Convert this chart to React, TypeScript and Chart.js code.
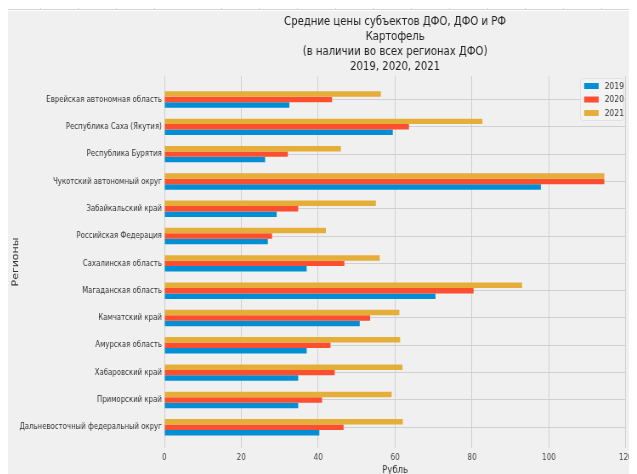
import React, { useEffect, useRef } from "react";
import { Chart, registerables } from "chart.js";

Chart.register(...registerables);

const regions: string[] = [
  "Еврейская автономная область",
  "Республика Саха (Якутия)",
  "Республика Бурятия",
  "Чукотский автономный округ",
  "Забайкальский край",
  "Российская Федерация",
  "Сахалинская область",
  "Магаданская область",
  "Камчатский край",
  "Амурская область",
  "Хабаровский край",
  "Приморский край",
  "Дальневосточный федеральный округ",
];
const prices2019: number[] = [32.5, 59.4, 26.2, 97.9, 29.2, 26.9, 37.0, 70.5, 50.8, 37.0, 34.8, 34.8, 40.3];
const prices2020: number[] = [43.6, 63.6, 32.1, 114.4, 34.8, 28.0, 46.8, 80.4, 53.5, 43.2, 44.3, 41.0, 46.6];
const prices2021: number[] = [56.3, 82.7, 45.9, 114.4, 55.0, 42.0, 56.0, 93.0, 61.1, 61.3, 61.9, 59.1, 62.0];
const xTicks: number[] = [0, 20, 40, 60, 80, 100, 120];
const seriesNames: string[] = ["2019", "2020", "2021"];
const seriesColors: string[] = ["#008fd5", "#fc4f30", "#e5ae38"];
const titleLines: string[] = [
  "Средние цены субъектов ДФО, ДФО и РФ",
  "Картофель",
  "(в наличии во всех регионах ДФО)",
  "2019, 2020, 2021",
];
const xTitle = "Рубль";
const yTitle = "Регионы";

const FONT = "'DejaVu Sans', sans-serif";
// the reference screenshot is squeezed horizontally; draw wider and scale down with CSS
const SQUEEZE = 0.85;
const CSS_W = 629;
const CSS_H = 463;
const INNER_W = Math.round(CSS_W / SQUEEZE);

const toPoints = (vals: number[]) =>
  vals.map((v, i) => ({ x: v, y: regions.length - 1 - i }));

const legendPlugin = {
  id: "insideLegend",
  afterDatasetsDraw(chart: any) {
    const { ctx, chartArea } = chart;
    const bw = 51;
    const bh = 42;
    const bx = chartArea.right - bw - 3;
    const by = chartArea.top + 2;
    ctx.save();
    ctx.fillStyle = "#f3f3f3";
    ctx.strokeStyle = "#e0e0e0";
    ctx.lineWidth = 1;
    ctx.beginPath();
    if (ctx.roundRect) ctx.roundRect(bx + 0.5, by + 0.5, bw, bh, 3);
    else ctx.rect(bx + 0.5, by + 0.5, bw, bh);
    ctx.fill();
    ctx.stroke();
    ctx.font = `9px ${FONT}`;
    ctx.textBaseline = "middle";
    ctx.textAlign = "left";
    seriesNames.forEach((name, k) => {
      const cy = by + 8 + k * 13.5;
      ctx.fillStyle = seriesColors[k];
      ctx.fillRect(bx + 5, cy - 3, 17, 6);
      ctx.fillStyle = "#333";
      ctx.fillText(name, bx + 29, cy + 0.5);
    });
    ctx.restore();
  },
};

export default function App() {
  const ref = useRef<HTMLCanvasElement | null>(null);

  useEffect(() => {
    if (!ref.current) return;
    const chart = new Chart(ref.current, {
      type: "bar",
      data: {
        datasets: [
          { label: seriesNames[2], data: toPoints(prices2021), backgroundColor: seriesColors[2] },
          { label: seriesNames[1], data: toPoints(prices2020), backgroundColor: seriesColors[1] },
          { label: seriesNames[0], data: toPoints(prices2019), backgroundColor: seriesColors[0] },
        ] as any,
      },
      options: {
        indexAxis: "y",
        animation: false,
        responsive: false,
        maintainAspectRatio: false,
        devicePixelRatio: 1,
        layout: { padding: { left: 0, right: 9, top: 0, bottom: 0 } },
        datasets: {
          bar: { categoryPercentage: 0.6, barPercentage: 1.0, borderWidth: 0 },
        },
        plugins: {
          legend: { display: false },
          tooltip: { enabled: false },
          title: {
            display: true,
            text: titleLines,
            fullSize: false,
            color: "#222",
            font: { family: FONT, size: 11.9, weight: "normal", lineHeight: 1.24 },
            padding: { top: 4, bottom: 2 },
          },
        },
        scales: {
          x: {
            type: "linear",
            position: "bottom",
            min: 0,
            max: 120,
            afterBuildTicks: (scale: any) => {
              scale.ticks = xTicks.map((v) => ({ value: v }));
            },
            afterFit: (scale: any) => {
              scale.height = 26;
            },
            grid: { color: "#d0d0d0", lineWidth: 1, drawTicks: false },
            border: { display: false },
            ticks: {
              color: "#444",
              padding: 5,
              font: { family: FONT, size: 8.5 },
              autoSkip: false,
              maxRotation: 0,
            },
            title: {
              display: true,
              text: xTitle,
              color: "#333",
              font: { family: FONT, size: 10, lineHeight: 0.8 },
              padding: 0,
            },
          },
          y: {
            type: "linear",
            min: -0.76,
            max: 12.86,
            offset: false,
            afterBuildTicks: (scale: any) => {
              scale.ticks = regions.map((_, i) => ({ value: i }));
            },
            afterFit: (scale: any) => {
              scale.width = 184;
            },
            grid: { color: "#d0d0d0", lineWidth: 1, drawTicks: false, offset: false },
            border: { display: false },
            ticks: {
              color: "#333",
              padding: 3,
              autoSkip: false,
              font: { family: FONT, size: 8.2 },
              callback: (v: any) => regions[regions.length - 1 - Number(v)],
            },
            title: {
              display: true,
              text: yTitle,
              color: "#333",
              font: { family: FONT, size: 11, lineHeight: 1.75 },
              padding: 0,
            },
          },
        },
      },
      plugins: [legendPlugin],
    } as any);
    return () => chart.destroy();
  }, []);

  return (
    <div style={{ position: "relative", marginTop: -8 }}>
      <div
        style={{
          position: "absolute",
          left: -8,
          top: 0,
          width: 637,
          height: 10,
          background:
            "repeating-linear-gradient(to right, transparent 0px, transparent 37px, #dcdcdc 37px, #dcdcdc 38px)",
          backgroundPosition: "184px 0",
          borderTop: "1px solid #e4e4e4",
          borderBottom: "1px solid #d4d4d4",
          boxSizing: "border-box",
        }}
      />
      <div style={{ height: 11 }} />
      <canvas
        ref={ref}
        width={INNER_W}
        height={CSS_H}
        style={{ display: "block", width: CSS_W, height: CSS_H, background: "#f0f0f0" }}
      />
    </div>
  );
}
